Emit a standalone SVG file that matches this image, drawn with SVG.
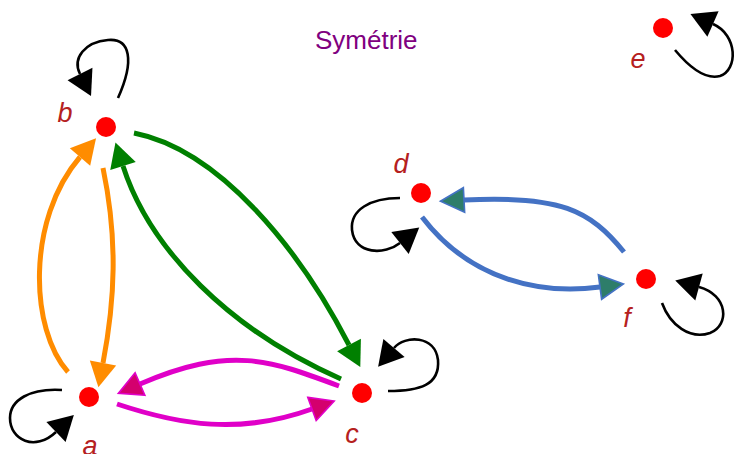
<svg xmlns="http://www.w3.org/2000/svg" width="737" height="454" viewBox="0 0 737 454">
<style>
.lbl{font-family:"Liberation Sans",Arial,sans-serif;font-style:italic;font-size:27px;fill:#b52020;text-anchor:middle}
.title{font-family:"Liberation Sans",Arial,sans-serif;font-size:26px;fill:#800080}
.node{fill:#ff0000}
.e{fill:none;stroke-width:5}
.loop{fill:none;stroke:#000;stroke-width:2.6}
</style>
<defs>
<marker id="hk" markerUnits="userSpaceOnUse" orient="auto" markerWidth="30" markerHeight="30" refX="0" refY="0" viewBox="-2 -14 27 28"><path d="M0,-13 L23,0 L0,13 z" fill="#000"/></marker>
<marker id="ho" markerUnits="userSpaceOnUse" orient="auto" markerWidth="30" markerHeight="30" refX="0" refY="0" viewBox="-2 -14 27 28"><path d="M0,-12.5 L23,0 L0,12.5 z" fill="#ff8c00"/></marker>
<marker id="hg" markerUnits="userSpaceOnUse" orient="auto" markerWidth="30" markerHeight="30" refX="0" refY="0" viewBox="-2 -14 27 28"><path d="M0,-12.5 L23,0 L0,12.5 z" fill="#008000"/></marker>
<marker id="hm" markerUnits="userSpaceOnUse" orient="auto" markerWidth="30" markerHeight="30" refX="0" refY="0" viewBox="-2 -14 27 28"><path d="M0,-11.5 L22,0 L0,11.5 z" fill="#d4006e" stroke="#e000c8" stroke-width="1.5"/></marker>
<marker id="hb" markerUnits="userSpaceOnUse" orient="auto" markerWidth="30" markerHeight="30" refX="0" refY="0" viewBox="-2 -14 27 28"><path d="M0,-11.5 L22,0 L0,11.5 z" fill="#2e7d6a" stroke="#4472c4" stroke-width="1.5"/></marker>
</defs>
<text class="title" x="315" y="49">Symétrie</text>
<g id="connectors">
<path class="e" stroke="#ff8c00" d="M103 168 C118 240 115 300 103 363" marker-end="url(#ho)"/>
<path class="e" stroke="#ff8c00" d="M68 372 C30 330 26 220 80 157" marker-end="url(#ho)"/>
<path class="e" stroke="#008000" d="M134 133 C220 150 300 250 349 345" marker-end="url(#hg)"/>
<path class="e" stroke="#008000" d="M341 379 C230 330 150 250 123 166" marker-end="url(#hg)"/>
<path class="e" stroke="#e000c8" d="M339 386 C270 360 230 345 140 384" marker-end="url(#hm)"/>
<path class="e" stroke="#e000c8" d="M117 404 C180 425 240 435 312 409" marker-end="url(#hm)"/>
<path class="e" stroke="#4472c4" d="M624 252 C590 210 560 195 464 200" marker-end="url(#hb)"/>
<path class="e" stroke="#4472c4" d="M422 217 C470 280 540 295 600 287" marker-end="url(#hb)"/>
<path class="loop" d="M118 98 C135 60 130 38 108 40 C85 42 72 58 80 74" marker-end="url(#hk)"/>
<path class="loop" d="M62 390 C30 388 10 400 10 418 C10 440 35 452 56 432" marker-end="url(#hk)"/>
<path class="loop" d="M388 391 C420 391 440 385 438 360 C435 335 405 335 394 348" marker-end="url(#hk)"/>
<path class="loop" d="M400 198 C370 198 350 210 352 230 C355 255 385 255 400 243" marker-end="url(#hk)"/>
<path class="loop" d="M662 303 C670 325 690 340 710 333 C730 325 728 295 699 287" marker-end="url(#hk)"/>
<path class="loop" d="M675 50 C690 68 705 80 720 76 C738 70 738 35 713 24" marker-end="url(#hk)"/>
</g>
<g id="a"><circle class="node" cx="89" cy="397" r="10"/><text class="lbl" x="90" y="455">a</text></g>
<g id="b"><circle class="node" cx="106" cy="127" r="10"/><text class="lbl" x="65" y="122">b</text></g>
<g id="c"><circle class="node" cx="362" cy="393" r="10"/><text class="lbl" x="352" y="443">c</text></g>
<g id="d"><circle class="node" cx="421" cy="193" r="10"/><text class="lbl" x="401" y="173">d</text></g>
<g id="e"><circle class="node" cx="663" cy="28" r="10"/><text class="lbl" x="638" y="68">e</text></g>
<g id="f"><circle class="node" cx="646" cy="279" r="10"/><text class="lbl" x="627" y="327">f</text></g>
</svg>
